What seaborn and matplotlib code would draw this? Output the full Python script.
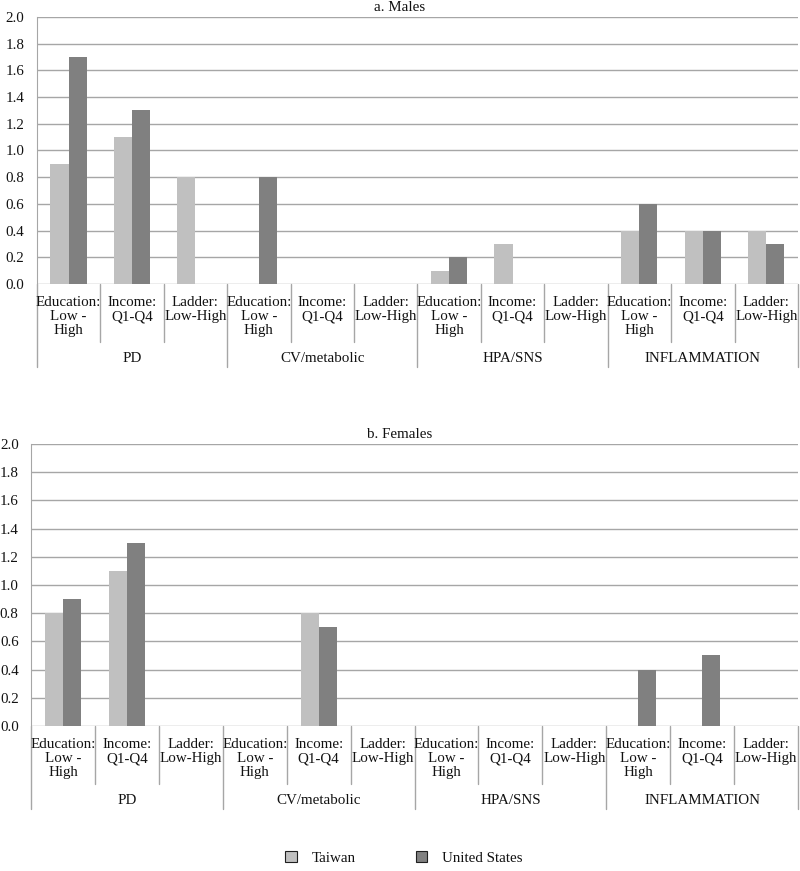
import numpy as np
import pandas as pd
import matplotlib
matplotlib.use("Agg")
import matplotlib.pyplot as plt
import seaborn as sns
from matplotlib.patches import Patch

groups = ["PD", "CV/metabolic", "HPA/SNS", "INFLAMMATION"]
measures = ["Education:\nLow -\nHigh", "Income:\nQ1-Q4", "Ladder:\nLow-High"]
countries = ["Taiwan", "United States"]
colors = ["#c0c0c0", "#808080"]

males_taiwan = [0.9, 1.1, 0.8, 0.0, 0.0, 0.0, 0.1, 0.3, 0.0, 0.4, 0.4, 0.4]
males_us = [1.7, 1.3, 0.0, 0.8, 0.0, 0.0, 0.2, 0.0, 0.0, 0.6, 0.4, 0.3]
females_taiwan = [0.8, 1.1, 0.0, 0.0, 0.8, 0.0, 0.0, 0.0, 0.0, 0.0, 0.0, 0.0]
females_us = [0.9, 1.3, 0.0, 0.0, 0.7, 0.0, 0.0, 0.0, 0.0, 0.4, 0.5, 0.0]

yticks = [0.0, 0.2, 0.4, 0.6, 0.8, 1.0, 1.2, 1.4, 1.6, 1.8, 2.0]

slots = [f"{g}|{m}" for g in groups for m in measures]

sns.set_style("white")
plt.rcParams["font.family"] = "serif"
plt.rcParams["font.serif"] = ["Liberation Serif", "DejaVu Serif"]
text_color = "#111111"
line_color = "#a6a6a6"
fs = 10.8

fig = plt.figure(figsize=(8, 8.71), dpi=100)
ax_top = fig.add_axes([0.046, 0.674, 0.9515, 0.3065])
ax_bot = fig.add_axes([0.039, 0.1665, 0.9585, 0.3237])


def make_df(tw, us):
    rows = []
    for c, vals in zip(countries, [tw, us]):
        for s, v in zip(slots, vals):
            rows.append({"slot": s, "value": v, "country": c})
    return pd.DataFrame(rows)


def draw(ax, tw, us):
    df = make_df(tw, us)
    sns.barplot(data=df, x="slot", y="value", hue="country", order=slots,
                hue_order=countries, palette=colors, width=0.57, gap=0,
                linewidth=0, errorbar=None, legend=False, ax=ax)
    ax.set_ylim(0, 2.0)
    ax.set_xlim(-0.5, len(slots) - 0.5)
    ax.set_yticks(yticks)
    ax.set_yticklabels([f"{t:.1f}" for t in yticks], fontsize=fs, color=text_color)
    ax.set_xticks([])
    ax.set_xlabel("")
    ax.set_ylabel("")
    ax.yaxis.grid(True, color=line_color, linewidth=1)
    ax.set_axisbelow(True)
    ax.tick_params(axis="y", length=4, color=line_color, pad=5)
    for sp in ["top", "right", "bottom"]:
        ax.spines[sp].set_visible(False)
    ax.spines["left"].set_color(line_color)

    h_px = ax.get_position().height * fig.get_figheight() * fig.dpi
    sub_len = 58 / h_px
    grp_len = 83 / h_px
    trans = ax.get_xaxis_transform()
    for i in range(len(slots) + 1):
        x = i - 0.5
        depth = grp_len if i % 3 == 0 else sub_len
        ax.plot([x, x], [0, -depth], transform=trans, color=line_color,
                linewidth=1, clip_on=False)
    for i, s in enumerate(slots):
        ax.annotate(s.split("|")[1], xy=(i, 0), xycoords=trans,
                    xytext=(0, -8.5), textcoords="offset points",
                    ha="center", va="top", fontsize=fs, color=text_color,
                    linespacing=1.13)
    for j, g in enumerate(groups):
        ax.annotate(g, xy=(j * 3 + 1, 0), xycoords=trans,
                    xytext=(0, -54), textcoords="offset points",
                    ha="center", va="center", fontsize=fs, color=text_color)


draw(ax_top, males_taiwan, males_us)
draw(ax_bot, females_taiwan, females_us)

fig.text(0.5, 0.991, "a. Males", ha="center", va="center", fontsize=fs, color=text_color)
fig.text(0.5, 0.5006, "b. Females", ha="center", va="center", fontsize=fs, color=text_color)

handles = [Patch(facecolor=c, edgecolor="#202020", linewidth=0.8) for c in colors]
fig.legend(handles, countries, loc="center", bbox_to_anchor=(0.505, 0.015), ncol=2,
           frameon=False, fontsize=fs, handlelength=0.75, handleheight=0.75,
           handletextpad=1.0, columnspacing=4.0, labelcolor=text_color)

fig.savefig("out.png", dpi=100)
